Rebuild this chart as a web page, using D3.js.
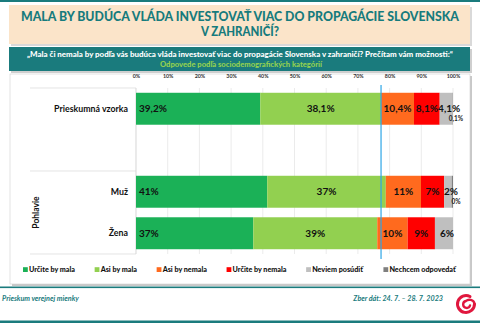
<!DOCTYPE html>
<html>
<head>
<meta charset="utf-8">
<script src="https://cdn.jsdelivr.net/npm/d3@7"></script>
<style>
  body { margin: 0; background: #fff; }
  text { font-family: Lato, "Open Sans", sans-serif; }
</style>
</head>
<body>
<script>
// data
var categories = ["Prieskumná vzorka", "Muž", "Žena"];
var groupLabel = "Pohlavie";
var series = ["Určite by mala", "Asi by mala", "Asi by nemala", "Určite by nemala", "Neviem posúdiť", "Nechcem odpovedať"];
var colors = ["#1bb157", "#92d050", "#ff6a1e", "#ff0000", "#bfbfbf", "#7f7f7f"];
var sampleValues = [39.2, 38.1, 10.4, 8.1, 4.1, 0.1];
var muzValues = [41.4, 37.4, 11.1, 7.3, 2.4, 0.4];
var zenaValues = [37.0, 39.1, 9.6, 8.6, 5.7, 0.0];
var tickValues = [0, 10, 20, 30, 40, 50, 60, 70, 80, 90, 100];
var markerValue = 77.3;

var titleLines = ["MALA BY BUDÚCA VLÁDA INVESTOVAŤ VIAC DO PROPAGÁCIE SLOVENSKA", "V ZAHRANIČÍ?"];
var question = "„Mala či nemala by podľa vás budúca vláda investovať viac do propagácie Slovenska v zahraničí? Prečítam vám možnosti:“";
var subtitle = "Odpovede podľa sociodemografických kategórií";
var footLeft = "Prieskum verejnej mienky";
var footRight = "Zber dát: 24. 7. – 28. 7. 2023";

var teal = "#1a7b7d";
var W = 480, H = 323;

var sk = d3.formatLocale({decimal: ",", thousands: " ", grouping: [3], currency: ["", "€"]});
var fmt1 = sk.format(".1f"), fmt0 = sk.format(".0f");

var rows = [
  {name: categories[0], values: sampleValues, fmt: fmt1},
  {name: categories[1], values: muzValues, fmt: fmt0},
  {name: categories[2], values: zenaValues, fmt: fmt0}
];

var svg = d3.select("body").append("svg")
    .attr("width", W).attr("height", H);

function fit(sel, w) {
  var n = sel.node();
  if (n.getComputedTextLength() > 0) sel.attr("textLength", w).attr("lengthAdjust", "spacingAndGlyphs");
  return sel;
}

// top teal line
svg.append("rect").attr("x", 0).attr("y", 0).attr("width", W).attr("height", 2).attr("fill", teal);

// title box
svg.append("rect").attr("x", 11).attr("y", 7).attr("width", 461).attr("height", 39).attr("fill", "#d9d9d9");
svg.append("rect").attr("x", 9).attr("y", 5).attr("width", 461).attr("height", 39).attr("fill", "#fbe4c9");
titleLines.forEach(function(t, i) {
  var s = svg.append("text").attr("x", 240).attr("y", 21 + i * 14.5)
    .attr("text-anchor", "middle").attr("font-size", 12.5).attr("font-weight", 900)
    .attr("fill", "#167b7d").text(t);
  fit(s, i == 0 ? 438 : 78);
});

// question box
svg.append("rect").attr("x", 11).attr("y", 49).attr("width", 461).attr("height", 24).attr("fill", "#cfcfcf");
svg.append("rect").attr("x", 9).attr("y", 47).attr("width", 461).attr("height", 24).attr("fill", teal);
fit(svg.append("text").attr("x", 240).attr("y", 56.5).attr("text-anchor", "middle")
  .attr("font-size", 6.6).attr("font-weight", 900).attr("fill", "#fff").text(question), 426);
fit(svg.append("text").attr("x", 241).attr("y", 66.5).attr("text-anchor", "middle")
  .attr("font-size", 6.6).attr("font-weight", 900).attr("fill", "#92d050").text(subtitle), 162);

// chart panel
svg.append("rect").attr("x", 12).attr("y", 76).attr("width", 460).attr("height", 210).attr("fill", "#c8c8c8");
svg.append("rect").attr("x", 10).attr("y", 74).attr("width", 460).attr("height", 210)
  .attr("fill", "#fff").attr("stroke", "#d0d0d0").attr("stroke-width", 0.6);

var x = d3.scaleLinear().domain([0, 100]).range([136, 453]);
var y = d3.scaleBand().domain([categories[0], "_gap", categories[1], categories[2]])
  .range([88, 254]).paddingInner(0.23).paddingOuter(0.115);

// gridlines
svg.append("g").selectAll("line").data(tickValues).enter().append("line")
  .attr("x1", function(d) { return x(d); }).attr("x2", function(d) { return x(d); })
  .attr("y1", 88).attr("y2", 254).attr("stroke", "#e3e3e3").attr("stroke-width", 0.7);

// top axis
var ax = svg.append("g").attr("transform", "translate(0,81)")
  .call(d3.axisTop(x).tickValues(tickValues).tickSize(0).tickFormat(function(d) { return d + "%"; }));
ax.select(".domain").remove();
ax.selectAll("text").attr("font-size", 5.3).attr("font-weight", 700).attr("fill", "#333")
  .style("font-family", "Lato, sans-serif");

// category table lines
var tl = svg.append("g").attr("stroke", "#d9d9d9").attr("stroke-width", 0.7);
tl.append("line").attr("x1", 30).attr("x2", 136).attr("y1", 88).attr("y2", 88);
tl.append("line").attr("x1", 30).attr("x2", 136).attr("y1", 171).attr("y2", 171);
tl.append("line").attr("x1", 30).attr("x2", 136).attr("y1", 254).attr("y2", 254);
tl.append("line").attr("x1", 136).attr("x2", 136).attr("y1", 88).attr("y2", 254);

// bars
var g = svg.append("g").selectAll("g.row").data(rows).enter().append("g").attr("class", "row");
g.each(function(r) {
  var acc = 0;
  r.segs = r.values.map(function(v, i) { var s = {x0: acc, v: v, i: i, fmt: r.fmt}; acc += v; return s; });
  var row = d3.select(this);
  row.selectAll("rect").data(r.segs).enter().append("rect")
    .attr("x", function(d) { return x(d.x0); })
    .attr("width", function(d) { return x(d.x0 + d.v) - x(d.x0); })
    .attr("y", y(r.name)).attr("height", y.bandwidth())
    .attr("fill", function(d) { return colors[d.i]; });
});

// marker line
svg.append("line").attr("x1", x(markerValue)).attr("x2", x(markerValue))
  .attr("y1", 85).attr("y2", 259).attr("stroke", "#2ea6e6").attr("stroke-width", 1.2);

// value labels
g.each(function(r) {
  var row = d3.select(this), cy = y(r.name) + y.bandwidth() / 2;
  row.selectAll("text.val").data(r.segs.filter(function(d) { return d.i < 5 && d.v > 0; })).enter()
    .append("text").attr("class", "val")
    .attr("x", function(d) { return d.i == 0 ? x(d.x0) + 3 : x(d.x0 + d.v / 2) + (d.i == 4 ? 3 : 0); })
    .attr("y", cy + 3.5)
    .attr("text-anchor", function(d) { return d.i == 0 ? "start" : "middle"; })
    .attr("font-size", 10).attr("font-weight", 700).attr("fill", "#111")
    .text(function(d) { return d.fmt(d.v) + "%"; });
  var last = r.segs[5];
  if (r.name != categories[2]) {
    row.append("text").attr("x", x(100) + 3).attr("y", cy + 12.5).attr("text-anchor", "middle")
      .attr("font-size", 6.5).attr("font-weight", 700).attr("fill", "#222")
      .text(last.fmt(last.v) + "%");
  }
});

// category labels
rows.forEach(function(r) {
  svg.append("text").attr("x", 128).attr("y", y(r.name) + y.bandwidth() / 2 + 3)
    .attr("text-anchor", "end").attr("font-size", 8.8).attr("font-weight", 700).attr("fill", "#111")
    .text(r.name);
});
svg.append("text").attr("transform", "translate(39," + ((y(categories[1]) + y(categories[2]) + y.bandwidth()) / 2) + ") rotate(-90)")
  .attr("text-anchor", "middle").attr("font-size", 8.5).attr("font-weight", 700).attr("fill", "#111")
  .text(groupLabel);

// legend
var lg = svg.append("g").attr("transform", "translate(0,272)");
var items = lg.selectAll("g").data(series).enter().append("g");
items.append("rect").attr("x", 0).attr("y", -4.8).attr("width", 4.8).attr("height", 4.8)
  .attr("fill", function(d, i) { return colors[i]; });
items.append("text").attr("x", 6).attr("y", 0).attr("font-size", 7.2).attr("font-weight", 900)
  .attr("fill", "#111").text(function(d) { return d; });
var widths = [];
items.each(function() { widths.push(this.getBBox().width); });
var total = d3.sum(widths), gap = (457 - 23 - total) / (series.length - 1), lx = 23;
items.attr("transform", function(d, i) { var t = "translate(" + lx + ",0)"; lx += widths[i] + gap; return t; });

// footer
svg.append("rect").attr("x", 0).attr("y", 286.5).attr("width", W).attr("height", 1.6).attr("fill", teal);
svg.append("rect").attr("x", 0).attr("y", 320.5).attr("width", W).attr("height", 2.5).attr("fill", teal);
svg.append("text").attr("x", 2).attr("y", 301).attr("font-size", 7.2).attr("font-weight", 700)
  .attr("font-style", "italic").attr("fill", teal).text(footLeft);
svg.append("text").attr("x", 443).attr("y", 301).attr("text-anchor", "end").attr("font-size", 7.2)
  .attr("font-weight", 700).attr("font-style", "italic").attr("fill", teal).text(footRight);

// logo swirl
var logo = svg.append("g").attr("transform", "translate(466,304)").attr("fill", "none")
  .attr("stroke", "#e0173e").attr("stroke-linecap", "round");
logo.append("path").attr("stroke-width", 3)
  .attr("d", "M4,-7.5 A8.5,8.5 0 1 0 8.5,0");
logo.append("path").attr("stroke-width", 2.4)
  .attr("d", "M8.5,0 C8,-5 2,-5 0,-3 A3.5,3.5 0 1 0 4,1.5");
</script>
</body>
</html>
